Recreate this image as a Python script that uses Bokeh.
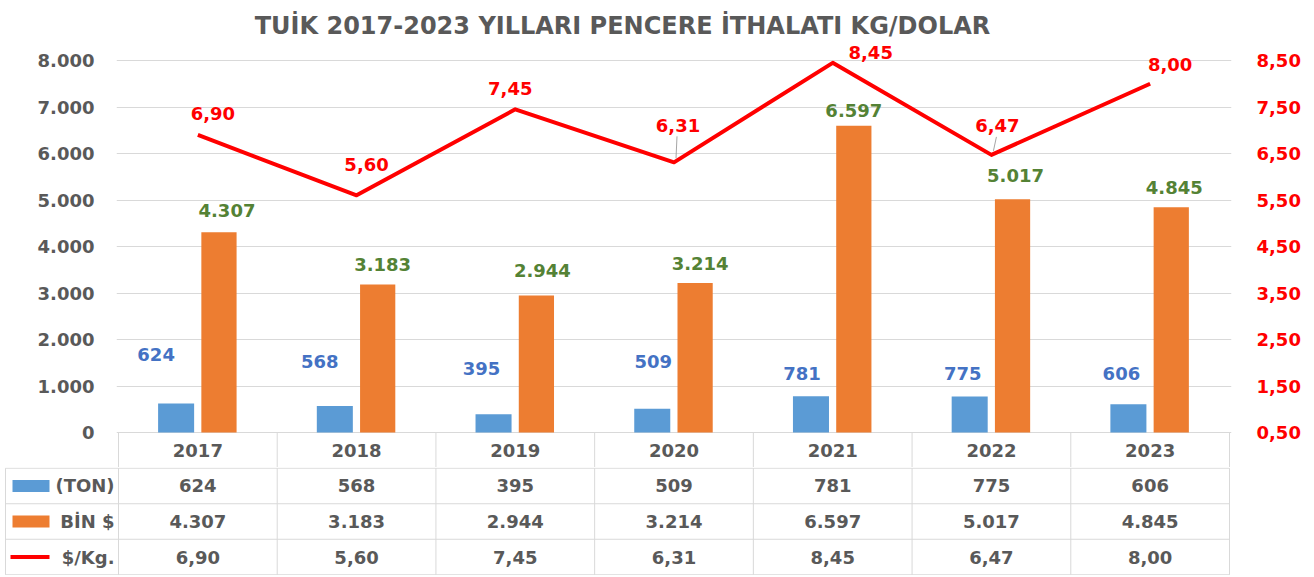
from bokeh.plotting import figure
from bokeh.models import Range1d, LinearAxis, FixedTicker, CustomJSTickFormatter
from bokeh.layouts import column
from bokeh.embed import file_html
from bokeh.resources import INLINE
from bokeh.core.properties import value

# ---------------- data ----------------
years = ["2017", "2018", "2019", "2020", "2021", "2022", "2023"]
ton = [624, 568, 395, 509, 781, 775, 606]
bin_usd = [4307, 3183, 2944, 3214, 6597, 5017, 4845]
usd_per_kg = [6.90, 5.60, 7.45, 6.31, 8.45, 6.47, 8.00]
left_ticks = [0, 1000, 2000, 3000, 4000, 5000, 6000, 7000, 8000]
right_ticks = [0.5, 1.5, 2.5, 3.5, 4.5, 5.5, 6.5, 7.5, 8.5]
series_names = ["(TON)", "BİN $", "$/Kg."]
title_text = "TUİK 2017-2023 YILLARI PENCERE İTHALATI KG/DOLAR"

# ---------------- label offsets (layout, px) ----------------
ton_label_dx = [-20, -15, -12, 1, -9, -7, -7]
ton_label_dy = [-49, -45, -46, -47, -23, -23, -31]
usd_label_dx = [8, 5, 6, 5, 0, 3, 3]
usd_label_dy = [-22, -20, -25, -20, -15, -24, -20]
kg_label_dx = [15, 10, -5, 4, 38, 6, 20]
kg_label_dy = [-21, -31, -21, -37, -10, -29, -19]
leader_idx = [3, 5]          # price labels drawn with a leader line

# ---------------- styles ----------------
FONT = "DejaVu Sans"
GRAY_TXT = "#595959"
GRID = "#D9D9D9"
LEADER = "#A6A6A6"
BLUE = "#5B9BD5"
ORANGE = "#ED7D31"
RED = "#FF0000"
BLUE_TXT = "#4472C4"
GREEN_TXT = "#548235"
NUM_SIZE = "18px"

# ---------------- layout (page px) ----------------
W = 1306
SX0 = 118.0                # page x of the first category boundary
CAT_W = 1111.0 / 7         # px per category
ZERO_SY = 432.0            # page y of value 0
PX_PER_UNIT = 0.0465       # px per unit on left axis
CHART_TOP, CHART_BOTTOM = 0, 467
FRAME_L, FRAME_R = 116, 1231
TABLE_LEFT, TABLE_BOTTOM = 4, 575


def xd(sx):
    return 0.5 + (sx - SX0) / CAT_W


def yd(sy):
    return (ZERO_SY - sy) / PX_PER_UNIT


def fmt_thousands(v):
    return f"{v:,}".replace(",", ".")


def fmt_dec(v):
    return f"{v:.2f}".replace(".", ",")


xs = [i + 1 for i in range(len(years))]
bounds = [i + 0.5 for i in range(len(years) + 1)]

# ================= chart =================
p = figure(width=W, height=CHART_BOTTOM - CHART_TOP,
           x_range=Range1d(xd(FRAME_L), xd(FRAME_R)),
           y_range=Range1d(yd(CHART_BOTTOM), yd(CHART_TOP)),
           output_backend="svg", toolbar_location=None,
           x_axis_location=None,
           min_border_left=FRAME_L, min_border_right=W - FRAME_R,
           min_border_top=0, min_border_bottom=0)
p.frame_align = False
p.title = None
p.outline_line_color = None
p.xgrid.visible = False
p.ygrid.grid_line_color = GRID
p.ygrid.grid_line_width = 1

p.extra_y_ranges = {"right": Range1d(0.5 + yd(CHART_BOTTOM) / 1000.0,
                                     0.5 + yd(CHART_TOP) / 1000.0)}

lax = p.yaxis[0]
lax.ticker = FixedTicker(ticks=left_ticks)
lax.formatter = CustomJSTickFormatter(code="""
    const v = Math.round(tick);
    return v.toString().replace(/\\B(?=(\\d{3})+(?!\\d))/g, ".");
""")
rax = LinearAxis(y_range_name="right", ticker=FixedTicker(ticks=right_ticks),
                 formatter=CustomJSTickFormatter(code="return tick.toFixed(2).replace('.', ',');"))
p.add_layout(rax, "right")

for ax, col, standoff in ((lax, GRAY_TXT, 16), (rax, RED, 19)):
    ax.axis_line_color = None
    ax.major_tick_line_color = None
    ax.minor_tick_line_color = None
    ax.major_label_text_font = FONT
    ax.major_label_text_font_style = "bold"
    ax.major_label_text_font_size = NUM_SIZE
    ax.major_label_text_color = col
    ax.major_label_standoff = standoff

# bars
ton_x = [x - 0.137 for x in xs]
usd_x = [x + 0.133 for x in xs]
p.vbar(x=ton_x, top=ton, bottom=0, width=0.227, fill_color=BLUE, line_color=None)
p.vbar(x=usd_x, top=bin_usd, bottom=0, width=0.222, fill_color=ORANGE, line_color=None)

# small leader lines for price labels that sit far from their point
right_per_px = 1.0 / (PX_PER_UNIT * 1000.0)
p.segment(x0=[xs[i] + 2 / CAT_W for i in leader_idx],
          y0=[usd_per_kg[i] + 4 * right_per_px for i in leader_idx],
          x1=[xs[i] + (kg_label_dx[i] - 1) / CAT_W for i in leader_idx],
          y1=[usd_per_kg[i] + (-kg_label_dy[i] - 11) * right_per_px for i in leader_idx],
          y_range_name="right", line_color=LEADER, line_width=1)

# line
p.line(xs, usd_per_kg, y_range_name="right", line_color=RED, line_width=4,
       line_join="round")

# value labels
common = dict(text_align="center", text_baseline="middle",
              text_font=value(FONT), text_font_style="bold",
              text_font_size=NUM_SIZE)
p.text(x=ton_x, y=ton, text=[fmt_thousands(v) for v in ton],
       x_offset=ton_label_dx, y_offset=ton_label_dy, text_color=BLUE_TXT, **common)
p.text(x=usd_x, y=bin_usd, text=[fmt_thousands(v) for v in bin_usd],
       x_offset=usd_label_dx, y_offset=usd_label_dy, text_color=GREEN_TXT, **common)
p.text(x=xs, y=usd_per_kg, text=[fmt_dec(v) for v in usd_per_kg],
       x_offset=kg_label_dx, y_offset=kg_label_dy, text_color=RED,
       y_range_name="right", **common)

# header row of the data table (years)
p.segment(x0=bounds, y0=[0] * len(bounds), x1=bounds, y1=[yd(CHART_BOTTOM)] * len(bounds),
          line_color=GRID, line_width=1)
p.text(x=xs, y=[yd((ZERO_SY + CHART_BOTTOM) / 2)] * len(xs), text=years,
       text_color=GRAY_TXT, **common)

# title
p.text(x=[xd(622)], y=[yd(25)], text=[title_text], text_align="center",
       text_baseline="middle", text_font=value(FONT), text_font_style="bold",
       text_font_size="24px", text_color=GRAY_TXT)

# ================= data table =================
t = figure(width=W, height=TABLE_BOTTOM - CHART_BOTTOM,
           x_range=Range1d(xd(TABLE_LEFT), xd(FRAME_R)),
           y_range=Range1d(3.02, -0.02),
           output_backend="svg", toolbar_location=None,
           x_axis_location=None, y_axis_location=None,
           min_border_left=TABLE_LEFT, min_border_right=W - FRAME_R,
           min_border_top=0, min_border_bottom=0)
t.frame_align = False
t.title = None
t.outline_line_color = None
t.xgrid.visible = False
t.ygrid.visible = False

left_edge = xd(5)
rows = [0, 1, 2, 3]
t.segment(x0=[left_edge] * len(rows), y0=rows, x1=[bounds[-1]] * len(rows), y1=rows,
          line_color=GRID, line_width=1)
vx = [left_edge] + bounds
t.segment(x0=vx, y0=[0] * len(vx), x1=vx, y1=[3] * len(vx), line_color=GRID, line_width=1)

row_values = [
    [fmt_thousands(v) for v in ton],
    [fmt_thousands(v) for v in bin_usd],
    [fmt_dec(v) for v in usd_per_kg],
]
for r, vals in enumerate(row_values):
    t.text(x=xs, y=[r + 0.5] * len(xs), text=vals, text_color=GRAY_TXT, **common)

# legend keys
t.rect(x=[xd(30.5)], y=[0.5], width=37, height=12, width_units="screen",
       height_units="screen", fill_color=BLUE, line_color=None)
t.rect(x=[xd(30.5)], y=[1.5], width=37, height=12, width_units="screen",
       height_units="screen", fill_color=ORANGE, line_color=None)
t.segment(x0=[xd(10)], y0=[2.5], x1=[xd(49)], y1=[2.5], line_color=RED, line_width=4)
t.text(x=[xd(114)] * 3, y=[0.5, 1.5, 2.5], text=series_names, text_align="right",
       text_baseline="middle", text_font=value(FONT), text_font_style="bold",
       text_font_size=NUM_SIZE, text_color=GRAY_TXT)

layout = column(p, t, spacing=0)
open("out.html", "w").write(file_html(layout, INLINE))
